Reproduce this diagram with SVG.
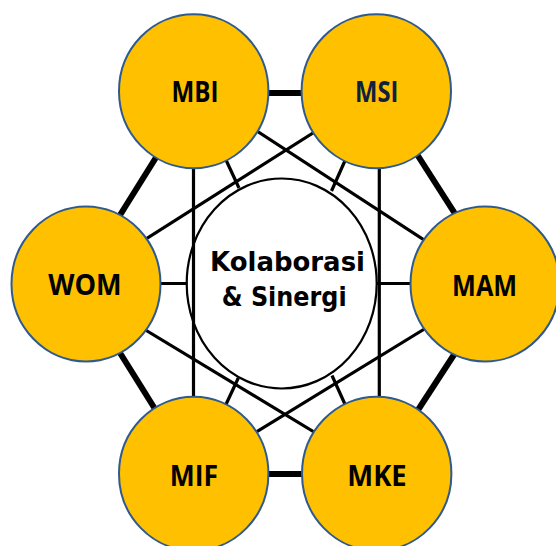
<svg xmlns="http://www.w3.org/2000/svg" width="556" height="546" viewBox="0 0 556 546">
  <style>
    .node { fill: #FFC000; stroke: #2F5A8E; stroke-width: 2; }
    .hub { fill: #FFFFFF; stroke: #000000; stroke-width: 2.2; }
    .label { font-family: "Open Sans", "Liberation Sans", sans-serif; font-weight: 700; font-size: 29px; fill: #000000; text-anchor: middle; }
    .hub-label { font-family: "DejaVu Sans", Verdana, sans-serif; font-weight: bold; font-size: 26.5px; fill: #000000; text-anchor: middle; }
    .ring { stroke: #000000; stroke-width: 6; fill: none; }
    .link { stroke: #000000; stroke-width: 3.2; fill: none; }
  </style>
  <rect width="556" height="546" fill="#FFFFFF"/>

  <!-- central hub -->
  <g id="hub">
    <ellipse class="hub" cx="281.7" cy="283.5" rx="95" ry="105"/>
    <text class="hub-label" x="287.5" y="270.7" textLength="155" lengthAdjust="spacingAndGlyphs">Kolaborasi</text>
    <text class="hub-label" x="284.2" y="306" textLength="125" lengthAdjust="spacingAndGlyphs">&amp; Sinergi</text>
  </g>

  <!-- connectors -->
  <g id="connectors">
    <!-- outer hexagon -->
    <line class="ring" x1="194" y1="93" x2="376" y2="93"/>
    <line class="ring" x1="194" y1="474" x2="376" y2="474"/>
    <line class="ring" x1="197.5" y1="91" x2="77" y2="284"/>
    <line class="ring" x1="77" y1="284" x2="195" y2="473"/>
    <line class="ring" x1="376.5" y1="91" x2="500" y2="284"/>
    <line class="ring" x1="500" y1="284" x2="377" y2="473"/>
    <!-- cross links -->
    <line class="link" x1="193.5" y1="91" x2="193.5" y2="473"/>
    <line class="link" x1="379.3" y1="91" x2="379.3" y2="473"/>
    <line class="link" x1="194" y1="90" x2="484" y2="279"/>
    <line class="link" x1="376" y1="93" x2="86" y2="277"/>
    <line class="link" x1="86" y1="294" x2="376" y2="469.5"/>
    <line class="link" x1="484" y1="292.5" x2="194" y2="470"/>
    <!-- spokes to hub -->
    <line class="link" x1="194" y1="91" x2="239" y2="188"/>
    <line class="link" x1="376" y1="91" x2="331.5" y2="191"/>
    <line class="link" x1="86" y1="283.5" x2="187.5" y2="283.5"/>
    <line class="link" x1="484" y1="283.5" x2="376" y2="283.5"/>
    <line class="link" x1="194" y1="473" x2="238.3" y2="378"/>
    <line class="link" x1="376" y1="473" x2="332" y2="375.5"/>
  </g>

  <g id="MBI">
    <ellipse class="node" cx="193.7" cy="91.2" rx="74.7" ry="77"/>
    <text class="label" x="195" y="102.3" textLength="47" lengthAdjust="spacingAndGlyphs">MBI</text>
  </g>
  <g id="MSI">
    <ellipse class="node" cx="376.3" cy="91.2" rx="74.7" ry="77"/>
    <text class="label" x="376.7" y="102.3" textLength="43.3" lengthAdjust="spacingAndGlyphs" style="fill:#0E2141">MSI</text>
  </g>
  <g id="WOM">
    <ellipse class="node" cx="86" cy="284" rx="74.5" ry="77.5"/>
    <text class="label" x="85" y="295" textLength="73.4" lengthAdjust="spacingAndGlyphs">WOM</text>
  </g>
  <g id="MAM">
    <ellipse class="node" cx="485" cy="284" rx="74.5" ry="77.5"/>
    <text class="label" x="484.6" y="295.5" textLength="65" lengthAdjust="spacingAndGlyphs">MAM</text>
  </g>
  <g id="MIF">
    <ellipse class="node" cx="193.7" cy="473.7" rx="74.7" ry="77"/>
    <text class="label" x="194" y="485.7" textLength="48.3" lengthAdjust="spacingAndGlyphs">MIF</text>
  </g>
  <g id="MKE">
    <ellipse class="node" cx="376.7" cy="473.7" rx="74.7" ry="77"/>
    <text class="label" x="377" y="485.7" textLength="59.4" lengthAdjust="spacingAndGlyphs">MKE</text>
  </g>
</svg>
